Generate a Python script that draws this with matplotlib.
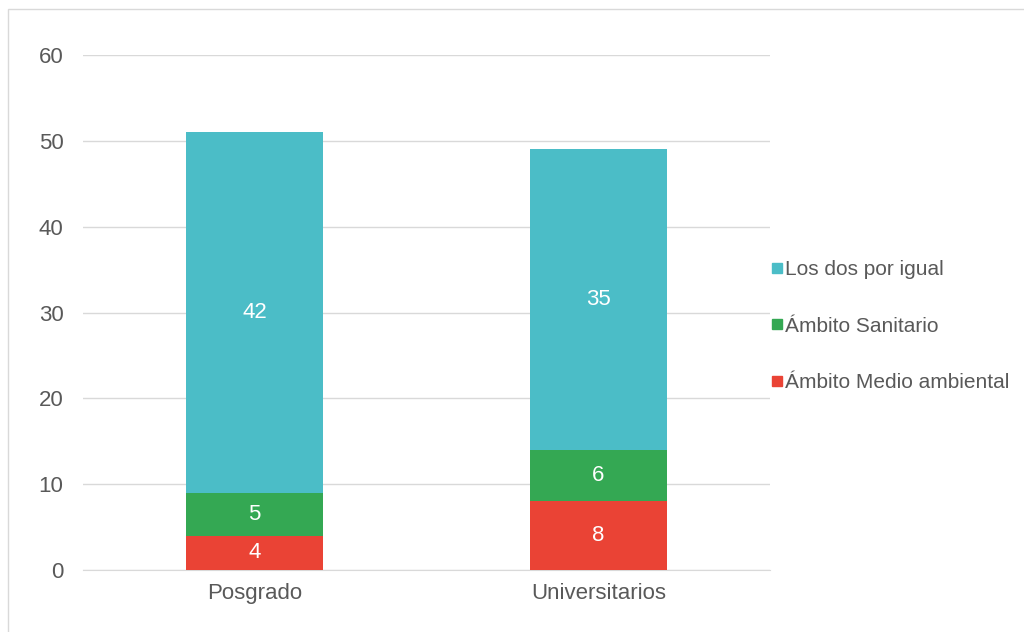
import matplotlib.pyplot as plt
import numpy as np
from matplotlib.patches import Rectangle
from matplotlib.lines import Line2D

plt.rcParams['font.family'] = ['Liberation Sans', 'DejaVu Sans']

# data
categories = ['Posgrado', 'Universitarios']
series_names = ['Ámbito Medio ambiental', 'Ámbito Sanitario', 'Los dos por igual']
medio_ambiental = [4, 8]
sanitario = [5, 6]
los_dos = [42, 35]

colors = ['#EA4335', '#34A853', '#4BBDC7']

fig = plt.figure(figsize=(10.24, 6.32), dpi=100)
ax = fig.add_axes([0.081, 0.098, 0.671, 0.815])

x = np.arange(len(categories))
width = 0.4
bottom = np.zeros(len(categories))
for name, vals, c in zip(series_names, [medio_ambiental, sanitario, los_dos], colors):
    bars = ax.bar(x, vals, width, bottom=bottom, color=c, label=name, zorder=3)
    for b, v, bt in zip(bars, vals, bottom):
        ax.text(b.get_x() + b.get_width() / 2, bt + v / 2, str(v),
                ha='center', va='center', color='white', fontsize=16, zorder=4)
    bottom += np.array(vals)

ax.set_xlim(-0.5, 1.5)
ax.set_ylim(0, 60)
ax.set_yticks(range(0, 61, 10))
ax.set_xticks(x)
ax.set_xticklabels(categories)
ax.tick_params(axis='both', length=0, labelsize=16, labelcolor='#595959')
ax.tick_params(axis='y', pad=14)
ax.tick_params(axis='x', pad=9)
ax.grid(axis='y', color='#D9D9D9', linewidth=1, zorder=0)
for s in ['top', 'right', 'left']:
    ax.spines[s].set_visible(False)
ax.spines['bottom'].set_color('#D9D9D9')

# legend (top to bottom: Los dos, Sanitario, Medio ambiental)
handles = [Line2D([], [], marker='s', linestyle='none', markersize=7, color=c) for c in colors[::-1]]
leg = fig.legend(handles, series_names[::-1], loc='center left', bbox_to_anchor=(0.740, 0.484),
                 frameon=False, fontsize=15, labelcolor='#595959', handletextpad=-0.1,
                 labelspacing=1.8, handlelength=1.0, borderaxespad=0)

# figure border
fig.patches.append(Rectangle((0.008, -0.01), 1.5, 0.995, transform=fig.transFigure,
                             fill=False, edgecolor='#D9D9D9', linewidth=1))

fig.savefig('out.png', dpi=100)
